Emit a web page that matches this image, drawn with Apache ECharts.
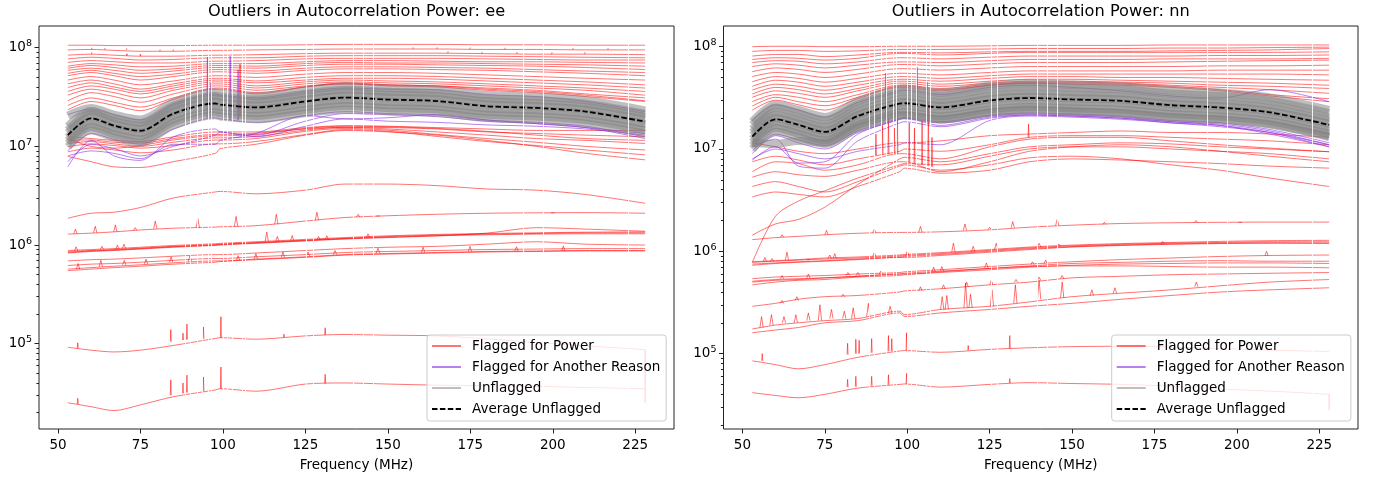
<!DOCTYPE html>
<html><head><meta charset="utf-8">
<script src="https://cdn.jsdelivr.net/npm/echarts@6/dist/echarts.min.js"></script>
<style>html,body{margin:0;padding:0;background:#fff}#c{width:1374px;height:478px}</style>
</head><body><div id="c"></div>
<script>
// ---------- sample frequencies (MHz) and ticks ----------
const freqs = [53,60,67,75,85,97.7,99.2,110,125,137,150,165,180,195,210,228];
const xTicks = [50,75,100,125,150,175,200,225];
const yTicks = [1e5,1e6,1e7,1e8];
const yMinor = [2e4,3e4,4e4,5e4,6e4,7e4,8e4,9e4,2e5,3e5,4e5,5e5,6e5,7e5,8e5,9e5,2e6,3e6,4e6,5e6,6e6,7e6,8e6,9e6,2e7,3e7,4e7,5e7,6e7,7e7,8e7,9e7];
const flaggedChannels = [88.6,90.1,92.1,93.6,95.6,96.6,100.0,101.2,102.7,105.8,106.9,125.4,127.4,139.5,142.5,145.5,191.1,197.2,222.9];
const gapBands = [[97.7,99.2],[137.2,137.8]];
const MEGA = 1e6; // all power values below are in millions

// ================= ee =================
const eeAverage = [13.0,19.2,16.2,14.4,21.5,27.2,26.5,24.8,28.5,31.2,29.8,28.8,25.5,24.5,22.5,17.8];
const eeUnflagged = [
 [9.9,14.6,12.3,10.9,16.3,20.7,20.1,18.8,21.7,23.7,22.6,21.9,19.4,18.6,17.1,13.5],
 [10.7,15.7,13.3,11.8,17.6,22.3,21.7,20.3,23.4,25.6,24.4,23.6,20.9,20.1,18.5,14.6],
 [11.4,16.9,14.3,12.7,18.9,23.9,23.3,21.8,25.1,27.5,26.2,25.3,22.4,21.6,19.8,15.7],
 [12.4,18.2,15.4,13.7,20.4,25.8,25.2,23.6,27.1,29.6,28.3,27.4,24.2,23.3,21.4,16.9],
 [13.7,20.2,17.0,15.1,22.6,28.6,27.8,26.0,29.9,32.8,31.3,30.2,26.8,25.7,23.6,18.7],
 [14.6,21.5,18.1,16.1,24.1,30.5,29.7,27.8,31.9,34.9,33.4,32.3,28.6,27.4,25.2,19.9],
 [16.0,23.0,19.4,17.3,25.8,32.6,31.8,29.8,34.2,37.4,35.8,34.6,30.6,29.4,27.0,21.4],
 [20.5,24.5,21.0,18.7,28.0,35.4,34.5,32.2,37.0,40.6,38.7,37.4,33.2,31.9,29.3,23.1]
];
const eePower = [
 [106,106,105,105,105,106,106,106,107,108,108,108,107,107,106,106],
 [95,96,94,92,92,94,94,95,96,97,97,97,96,96,95,95],
 [84,86,84,82,82,84,84,85,87,88,88,88,87,86,86,85],
 [77,80,78,75,76,79,79,79,82,83,83,83,82,81,80,79],
 [71,74,72,70,70,73,73,74,77,78,78,78,77,76,75,75],
 [65,69,67,64,65,69,69,69,72,74,74,73,72,72,71,70],
 [62,66,63,59,61,66,66,65,69,71,70,70,69,68,67,65],
 [59,62,59,55,58,63,63,62,66,68,68,67,66,65,63,60],
 [55,59,55,51,54,60,60,58,62,64,64,63,62,60,58,56],
 [52,56,52,47,51,57,57,55,59,61,61,60,59,57,55,52],
 [47,51,47,42,46,52,52,50,54,56,56,55,53,51,49,47],
 [43,47,43,38,43,49,49,46,50,52,52,51,49,47,45,42],
 [39.5,44,40,36,41,47,47,44,47,49,49,48,46,44,42,39],
 [36,41,38,34,39,45,45,41,45,47,46,45,43,41,39,36],
 [33,38,35,31,37,43,43,39,43,45,44,43,41,39,37,33],
 [29,35,32,28,34,41,41,37,41,43,42,41,39,37,34,31],
 [26,31,28,25,31,39,39,35,40,43,41,40,37,35,32,28.5],
 [23.5,28.5,26,23,30,38,38,34,40,44,42,41,38,36,33,29],
 [12.5,12.0,11.5,11.2,12.5,14.0,14.0,14.0,15.5,16.2,16.0,15.5,15.0,14.5,14.5,14.5],
 [11.6,11.6,11.0,10.8,12.0,13.2,13.2,13.6,15.0,15.6,15.5,15.0,14.0,13.5,13.0,12.5],
 [10.7,11.2,10.6,10.0,11.0,12.2,12.2,12.6,14.6,15.6,15.0,14.0,13.0,12.0,11.5,10.7],
 [9.9,10.6,10.2,9.6,10.2,11.6,11.6,12.0,14.2,15.2,14.6,13.2,12.0,11.0,10.0,9.2],
 [8.8,9.6,9.2,8.6,9.2,10.6,10.6,11.2,13.2,14.8,14.2,12.6,11.2,10.2,9.2,8.2],
 [7.9,7.0,6.2,6.1,7.0,8.5,9.5,10.5,13.0,14.5,14.0,13.0,11.5,10.0,8.5,7.3],
 [12.0,10.0,9.6,10.2,11.6,12.8,12.8,13.2,15.2,16.0,15.8,15.2,14.2,13.0,12.0,11.5],
 [1.87,2.1,2.15,2.4,3.0,3.45,3.5,3.3,3.6,4.15,4.15,4.0,3.7,3.6,3.25,2.65],
 [1.29,1.32,1.36,1.42,1.48,1.52,1.53,1.57,1.75,1.9,1.98,2.05,2.1,2.12,2.13,2.1],
 [0.86,0.88,0.9,0.93,0.97,1.01,1.02,1.06,1.12,1.17,1.22,1.26,1.29,1.31,1.33,1.33],
 [0.84,0.87,0.89,0.92,0.96,1.0,1.01,1.05,1.11,1.16,1.2,1.24,1.27,1.29,1.3,1.3],
 [0.83,0.86,0.88,0.91,0.95,0.99,1.0,1.04,1.1,1.15,1.19,1.24,1.32,1.5,1.45,1.38],
 [0.88,0.9,0.92,0.95,0.99,1.03,1.04,1.08,1.14,1.19,1.24,1.28,1.31,1.33,1.35,1.36],
 [0.69,0.71,0.72,0.74,0.77,0.8,0.8,0.83,0.88,0.92,0.95,0.97,1.02,1.08,1.02,1.0],
 [0.62,0.64,0.65,0.67,0.7,0.73,0.73,0.76,0.8,0.84,0.86,0.88,0.9,0.91,0.92,0.92],
 [0.57,0.59,0.61,0.63,0.66,0.69,0.69,0.72,0.76,0.8,0.82,0.84,0.86,0.87,0.88,0.88],
 [0.55,0.57,0.59,0.61,0.64,0.67,0.68,0.71,0.75,0.79,0.81,0.83,0.85,0.86,0.87,0.87],
 [0.092,0.086,0.0825,0.086,0.096,0.113,0.115,0.111,0.12,0.124,0.122,0.12,0.112,0.103,0.095,0.087],
 [0.0252,0.023,0.021,0.024,0.029,0.034,0.035,0.033,0.039,0.040,0.039,0.038,0.0375,0.037,0.036,0.035]
];
// spikes: [frequency, base, peak]
const eePowerSpikesNarrow = [
 [60.3,96,100],[64.3,95.5,99.5],[70.9,94.5,98.5],[81,92,96],[85,92,96],[157.7,97,101],[165,97,101],[175,96.5,100.5],[185.6,96,100],[206.2,95.5,99.5],[216.8,95,99],
 [60.3,86,90],[70.9,83,87],[75,82,86],[168.3,88,92],[178.6,87,91],[189.2,86.5,90.5],[199.8,86,90],[209.8,86,90],
 [56,0.09,0.102],[84.2,0.105,0.139],[87.9,0.109,0.128],[89.1,0.11,0.158],[94.1,0.112,0.148],[99.4,0.115,0.188],[107,0.112,0.116],[118.5,0.116,0.125],[131,0.123,0.145],[228,0.087,0.025],
 [56,0.0245,0.028],[84.2,0.030,0.043],[87.9,0.0315,0.040],[89.1,0.032,0.048],[94.1,0.033,0.046],[99.4,0.035,0.058],[131,0.0395,0.049],
 [105.2,20,68]
];
const eePowerSpikesWide = [
 [55.3,1.3,1.45],[61.3,1.33,1.55],[67.4,1.36,1.6],[73.4,1.41,1.5],[79.5,1.46,1.75],[92.4,1.5,1.85],[104,1.55,1.95],[116.2,1.62,2.05],[128.5,1.78,2.15],[141,1.93,2.05],[147,1.97,2.02],[200,2.12,2.2],
 [55.5,0.87,0.96],[63.3,0.9,0.97],[68,0.91,1.0],[70,0.92,1.02],[113.3,1.08,1.35],[116.5,1.09,1.22],[121,1.1,1.25],[129,1.13,1.22],[131.5,1.14,1.24],[144,1.19,1.3],
 [56.1,0.57,0.65],[63,0.6,0.7],[70.1,0.63,0.7],[76.7,0.64,0.72],[84.3,0.67,0.76],[90,0.68,0.78],[104.6,0.7,0.78],[110,0.72,0.82],[118.2,0.75,0.85],[125.8,0.77,0.85],[134,0.8,0.88],[147,0.83,0.93],[160.7,0.84,0.95],[174.9,0.86,0.97],[189,0.87,0.96],[203.2,0.87,0.98]
];
const eeOther = [
 [9.0,13.5,11.8,10.5,15.0,19.5,19.0,17.5,20.5,22.5,21.5,20.8,18.5,17.5,16.0,12.5],
 [6.2,11.5,8.0,7.2,12.5,15.0,14.0,13.0,18.0,21.5,21.0,20.0,18.0,17.0,15.5,12.0],
 [7.0,10.5,9.5,8.0,10.0,13.0,14.0,12.5,16.0,19.0,18.0,17.5,16.5,16.0,15.0,13.0],
 [21,24,21,18.5,27,34,33,31,36,39,38,37.5,33.5,32,28.5,22.5],
 [8.0,9.0,8.5,7.5,10.5,10.5,11.5,13.5,20.5,19.0,19.5,21.0,18.5,17.0,15.5,13.5]
];
const eeOtherSpikes = [[95.3,19.3,80],[96.4,19.4,44],[102.2,18.5,82],[104.6,18.4,60]];

// ================= nn =================
const nnAverage = [13.2,19.5,17.2,14.7,21.0,27.8,28.0,25.5,29.8,31.5,30.5,29.5,26.8,25.4,22.8,17.2];
const nnUnflagged = [
 [11.5,11.2,12.0,11.5,16.5,21.5,21.5,19.5,23,24.5,23.5,22.5,20.5,19.5,17.5,13.3],
 [10.0,14.8,13.1,11.2,16.0,21.1,21.3,19.4,22.6,23.9,23.2,22.4,20.4,19.3,17.3,13.1],
 [10.8,16.0,14.1,12.1,17.2,22.8,23.0,20.9,24.4,25.8,25.0,24.2,22.0,20.8,18.7,14.1],
 [11.6,17.2,15.1,12.9,18.5,24.5,24.6,22.4,26.2,27.7,26.8,26.0,23.6,22.4,20.1,15.1],
 [12.5,18.5,16.3,14.0,20.0,26.4,26.6,24.2,28.3,29.9,29.0,28.0,25.5,24.1,21.7,16.3],
 [13.6,20.1,17.7,15.1,21.6,28.6,28.8,26.3,30.7,32.4,31.4,30.4,27.6,26.2,23.5,17.7],
 [14.5,21.5,18.9,16.2,23.1,30.6,30.8,28.1,32.8,34.7,33.6,32.5,29.5,27.9,25.1,18.9],
 [15.6,23.0,20.3,17.3,24.8,32.8,33.0,30.1,35.2,37.2,36.0,34.8,31.6,30.0,26.9,20.3],
 [17.2,25.4,22.4,19.1,27.3,36.1,36.4,33.2,38.7,41.0,39.7,38.4,34.8,33.0,29.6,22.4],
 [18.5,27.3,24.1,20.6,29.4,38.9,39.2,35.7,41.7,44.1,42.7,41.3,37.5,35.6,31.9,24.1]
];
const nnPower = [
 [100,101,101,100,100,101,101,101,102,103,103,103,104,104,104,104],
 [90,92,92,90,91,94,94,94,95,96,96,96,97,97,98,99],
 [81,84,84,80,83,88,88,87,89,90,90,90,91,92,93,96],
 [75,78,77,74,77,86,86,83,86,88,88,88,88,88,88,89],
 [70,73,72,68,71,78,78,76,79,81,81,81,81,82,82,83],
 [64,68,66,62,66,71,71,70,73,75,75,75,76,76,76,77],
 [57,62,60,56,60,67,67,65,68,70,70,70,71,72,73,74],
 [51,56,54,50,54,61,61,59,62,64,64,64,64,65,65,66],
 [45.5,51,49,45,49,55,55,53,56,58,58,58,58,59,59,59],
 [41,47,45,41,45,51,51,49,52,54,54,54,54,54,54,53],
 [37.7,43,41,37.5,42,48,48,46,49,51,51,50,50,49,48,47],
 [34.5,40,38,34.5,39,46,46,43,46,48,48,47,46,45,44,42],
 [32,37,35,32,37,44,44,41,44,46,46,45,44,42,41,39],
 [29,34,32,29,34,42,42,39,43,45,45,44,42,40,38,35],
 [26.3,32,29,26.5,32,41,41,38,42,44,44,43,41,38,34,31],
 [24,30,27,24,31,40,40,37,42,44,43,42,40,37,33,29],
 [7.5,8.5,7.8,7.0,8.0,9.5,10.0,9.5,11.0,13.0,13.5,13.5,13.0,12.5,12.0,11.0],
 [6.0,7.5,7.2,6.2,7.0,9.0,9.0,8.0,10.5,12.5,13.0,13.0,12.0,11.0,10.2,9.4],
 [5.3,6.0,5.6,5.4,6.2,7.5,7.5,6.0,7.5,9.5,10.5,11.0,10.5,9.5,8.5,7.5],
 [4.3,4.8,4.3,3.8,4.8,6.8,7.0,6.2,7.0,8.2,8.5,8.0,7.0,6.2,5.2,4.3],
 [3.4,3.8,3.6,3.4,4.3,6.0,6.5,5.8,6.2,7.5,8.0,7.8,7.5,7.2,6.8,6.5],
 [11.5,10.5,9.5,9.0,10.0,11.5,11.5,12.0,13.5,14.0,14.5,15.0,14.5,14.5,14.0,13.0],
 [0.78,2.2,3.1,3.9,5.2,7.0,7.2,7.0,8.5,10,10.5,10.5,10,9.5,9.0,8.0],
 [1.44,1.85,2.05,2.7,4.5,8.0,8.3,7.5,9,10.5,11,11.5,11.2,10.5,10,9.4],
 [1.30,1.36,1.40,1.45,1.50,1.53,1.53,1.55,1.62,1.72,1.8,1.87,1.9,1.92,1.93,1.93],
 [0.78,0.8,0.82,0.84,0.86,0.9,0.91,0.95,1.02,1.08,1.13,1.17,1.2,1.22,1.24,1.24],
 [0.75,0.77,0.79,0.81,0.84,0.88,0.89,0.93,1.0,1.06,1.11,1.15,1.18,1.2,1.21,1.2],
 [0.73,0.76,0.78,0.8,0.83,0.87,0.87,0.91,0.98,1.04,1.1,1.14,1.17,1.19,1.2,1.2],
 [0.79,0.81,0.83,0.86,0.88,0.92,0.93,0.97,1.04,1.1,1.15,1.19,1.22,1.25,1.27,1.28],
 [0.54,0.56,0.57,0.58,0.6,0.62,0.63,0.66,0.71,0.75,0.79,0.83,0.86,0.89,0.91,0.92],
 [0.51,0.53,0.54,0.55,0.57,0.6,0.6,0.63,0.68,0.72,0.76,0.78,0.8,0.81,0.8,0.8],
 [0.47,0.5,0.52,0.53,0.56,0.58,0.59,0.62,0.66,0.7,0.73,0.75,0.76,0.77,0.77,0.76],
 [0.5,0.52,0.53,0.55,0.57,0.6,0.61,0.64,0.68,0.71,0.72,0.72,0.71,0.7,0.7,0.69],
 [0.29,0.31,0.34,0.36,0.37,0.4,0.41,0.43,0.47,0.5,0.55,0.57,0.59,0.6,0.61,0.62],
 [0.174,0.19,0.2,0.21,0.22,0.26,0.24,0.27,0.29,0.32,0.36,0.39,0.42,0.46,0.5,0.53],
 [0.16,0.17,0.18,0.2,0.21,0.25,0.23,0.25,0.27,0.29,0.31,0.34,0.37,0.4,0.42,0.44],
 [0.085,0.078,0.071,0.078,0.092,0.106,0.107,0.103,0.11,0.114,0.117,0.118,0.116,0.112,0.108,0.105],
 [0.0415,0.039,0.037,0.040,0.046,0.050,0.0505,0.047,0.050,0.052,0.051,0.050,0.048,0.045,0.043,0.040]
];
const nnPowerSpikesNarrow = [
 [90.5,8.7,14],[92.5,8.8,17],[94.3,8.9,20],[96.1,9.0,16],[97.0,9.0,28],
 [100.6,7.4,18],[102.2,7.2,16],[104.5,7.0,19],[106.4,6.8,28],[107.5,6.7,13],[136.8,13,17.5],
 [56,0.085,0.10],[81.9,0.098,0.126],[84.4,0.10,0.138],[85.4,0.10,0.135],[89.2,0.102,0.14],[94.3,0.105,0.15],[95.3,0.105,0.14],[99.8,0.107,0.16],[118.5,0.108,0.12],[131.1,0.112,0.15],
 [81.9,0.047,0.056],[84.4,0.0475,0.060],[89.2,0.0485,0.060],[94.3,0.0495,0.062],[99.8,0.0505,0.064],[131.1,0.0515,0.057],[228,0.040,0.028]
];
const nnPowerSpikesWide = [
 [62,1.37,1.45],[75.5,1.45,1.6],[90,1.52,1.65],[104,1.54,1.75],[117.5,1.6,1.85],[125,1.63,1.72],[132,1.7,1.95],[145.5,1.78,2.05],[159.8,1.83,1.92],[187.6,1.91,2.0],[201,1.92,1.98],
 [56.8,0.79,0.87],[59,0.8,0.85],[63.5,0.82,0.98],[70,0.83,0.86],[76.5,0.85,0.92],[78,0.85,0.95],[90,0.89,0.97],[100,0.91,1.0],[114,0.98,1.2],[120,1.0,1.12],[127,1.04,1.2],[140,1.1,1.2],[146,1.12,1.18],[177.5,1.18,1.25],
 [62,0.54,0.58],[70,0.55,0.6],[82,0.58,0.62],[85,0.58,0.62],[92,0.6,0.64],[108,0.63,0.7],[110.5,0.64,0.71],[124,0.69,0.77],[138,0.74,0.79],[142,0.76,0.82],[209,0.9,1.0],
 [62,0.31,0.33],[66.5,0.33,0.36],[80.5,0.36,0.38],[104,0.41,0.45],[111,0.43,0.47],[118,0.45,0.5],[125.5,0.47,0.52],[133,0.5,0.53],[140,0.52,0.56],[147,0.54,0.58],
 [55.8,0.18,0.23],[58.8,0.19,0.24],[62.6,0.2,0.23],[66.2,0.2,0.24],[70,0.21,0.25],[73.5,0.21,0.3],[77,0.22,0.27],[80.9,0.22,0.26],[83.6,0.22,0.28],[88.2,0.23,0.31],[94.8,0.25,0.29],[110.6,0.27,0.36],[112,0.27,0.37],[117.7,0.28,0.49],[119.2,0.28,0.38],[125.7,0.29,0.42],[132.8,0.31,0.47],[140,0.34,0.52],[147,0.35,0.5],[156,0.37,0.42],[163,0.39,0.44],[187.7,0.45,0.5]
];
const nnOther = [
 [9.5,14.0,12.3,10.8,15.0,20.0,20.5,18.5,21.5,22.5,22.0,21.0,19.0,18.0,15.5,11.5],
 [7.8,10.6,7.3,7.5,14.0,19.5,20.0,18.0,21.0,22.0,21.5,20.5,18.5,17.5,15.0,11.0],
 [10.5,12.5,6.8,6.5,12.0,18.0,18.5,16.5,20.0,21.5,21.0,20.0,18.0,17.0,14.5,10.5],
 [19,27,24,20.5,28.5,37,37.5,34,40,42,40,37,33,31.5,38,29],
 [9.0,13.5,11.5,10.0,14.5,19.5,20.0,17.0,20.5,21.5,21.0,20.0,18.5,17.0,14.0,10.5],
 [8,10,9,8,9.5,11,11.5,11,19,21,20.5,19.5,18,16.5,14.5,11]
];
const nnOtherSpikes = [[93.5,19.5,55],[103,19.8,63],[106,19,45]];

const legendNames = ['Flagged for Power','Flagged for Another Reason','Unflagged','Average Unflagged'];

// ---------- styling / layout ----------
const FONT = 'DejaVu Sans';
const RED = 'rgba(255,0,0,0.55)';
const PURPLE = 'rgba(138,43,226,0.6)';
const GRAY = 'rgba(128,128,128,0.5)';
const panels = [
 {title:'Outliers in Autocorrelation Power: ee', left:39, width:635, yExp:[4.1355,8.2199], legendLeft:427,
  avg:eeAverage, gray:eeUnflagged, red:eePower, redN:eePowerSpikesNarrow, redW:eePowerSpikesWide, purple:eeOther, purpleS:eeOtherSpikes},
 {title:'Outliers in Autocorrelation Power: nn', left:723.5, width:634.5, yExp:[4.263,8.2023], legendLeft:1111.7,
  avg:nnAverage, gray:nnUnflagged, red:nnPower, redN:nnPowerSpikesNarrow, redW:nnPowerSpikesWide, purple:nnOther, purpleS:nnOtherSpikes}
];
const TOP = 26, HEIGHT = 403;

function lineS(gi, name, vals, color, width, z, type){
  return {type:'line', name, xAxisIndex:gi, yAxisIndex:2*gi, silent:true, z,
    data: freqs.map((f,i)=>[f, vals[i]*MEGA]), smooth:0.3, symbol:'none', showSymbol:false,
    lineStyle:{color, width, type:type||'solid'}, itemStyle:{color}, emphasis:{disabled:true}};
}
function spikeS(gi, name, spikes, color, hw, z){
  const data=[];
  spikes.forEach(([f,b,p])=>{ data.push([f-hw,b*MEGA],[f,p*MEGA],[f+hw,b*MEGA],[f+hw,null]); });
  return {type:'line', name, xAxisIndex:gi, yAxisIndex:2*gi, silent:true, z, data, smooth:false,
    connectNulls:false, symbol:'none', showSymbol:false, lineStyle:{color, width:1}, itemStyle:{color}, emphasis:{disabled:true}};
}

const grid=[], xAxis=[], yAxis=[], series=[], title=[], legend=[];
const txt = {fontFamily:FONT, color:'#000'};
panels.forEach((p,gi)=>{
  const yMin=Math.pow(10,p.yExp[0]), yMax=Math.pow(10,p.yExp[1]);
  grid.push({left:p.left, top:TOP, width:p.width, height:HEIGHT, show:true, borderColor:'#222', borderWidth:1, backgroundColor:'transparent', z:20});
  title.push({text:p.title, left:p.left+p.width/2, top:4, textAlign:'center', padding:0,
    textStyle:{fontFamily:FONT, fontSize:16.2, fontWeight:'normal', color:'#000'}});
  xAxis.push({type:'value', gridIndex:gi, min:44.25, max:236.75, position:'bottom', z:10,
    axisLine:{show:false}, splitLine:{show:false},
    axisTick:{show:true, length:4.5, customValues:xTicks, lineStyle:{color:'#222', width:1}},
    axisLabel:{customValues:xTicks, margin:9, fontSize:13.5, ...txt},
    name:'Frequency (MHz)', nameLocation:'middle', nameGap:29, nameTextStyle:{fontSize:13.5, ...txt}});
  yAxis.push({type:'log', gridIndex:gi, min:yMin, max:yMax, position:'left', z:10,
    axisLine:{show:false}, splitLine:{show:false}, minorTick:{show:false},
    axisTick:{show:true, length:4.5, customValues:yTicks, lineStyle:{color:'#222', width:1}},
    axisLabel:{customValues:yTicks, margin:7,
      formatter:v=>'{b|10}{s|'+Math.round(Math.log10(v))+'}',
      rich:{b:{fontSize:13.5, lineHeight:14, verticalAlign:'bottom', ...txt},
            s:{fontSize:9.5, lineHeight:10, padding:[0,0,8,0], ...txt}}}});
  yAxis.push({type:'log', gridIndex:gi, min:yMin, max:yMax, position:'right', offset:-p.width, z:10,
    axisLine:{show:false}, splitLine:{show:false}, axisLabel:{show:false},
    axisTick:{show:true, inside:true, length:2.6, customValues:yMinor, lineStyle:{color:'#222', width:1}}});
  legend.push({data:legendNames, orient:'vertical', left:p.legendLeft, top:335, padding:[4,6,5,4], itemGap:7,
    itemWidth:29, itemHeight:14, z:30, backgroundColor:'rgba(255,255,255,0.8)', borderColor:'#cccccc',
    borderWidth:1, borderRadius:3, selectedMode:false, itemStyle:{opacity:0},
    textStyle:{fontSize:13.5, padding:[0,0,0,6], ...txt}});
  p.red.forEach(v=>series.push(lineS(gi,legendNames[0],v,RED,1,2)));
  series.push(spikeS(gi,legendNames[0],p.redN,RED,0.15,2));
  series.push(spikeS(gi,legendNames[0],p.redW,RED,0.5,2));
  p.purple.forEach(v=>series.push(lineS(gi,legendNames[1],v,PURPLE,1,2)));
  series.push(spikeS(gi,legendNames[1],p.purpleS,PURPLE,0.15,2));
  p.gray.forEach(v=>series.push(lineS(gi,legendNames[2],v,GRAY,8,2)));
  series.push(lineS(gi,legendNames[3],p.avg,'#000',1.8,3,[5.5,2.4]));
  series.push({type:'line', xAxisIndex:gi, yAxisIndex:2*gi, data:[], z:4, silent:true,
    markLine:{silent:true, symbol:['none','none'], label:{show:false}, animation:false,
      lineStyle:{color:'#fff', width:1, type:'solid', opacity:0.85},
      emphasis:{disabled:true}, data:flaggedChannels.map(f=>({xAxis:f}))},
    markArea:{silent:true, itemStyle:{color:'#fff'}, animation:false,
      data:gapBands.map(([a,b])=>[{xAxis:a},{xAxis:b}])}});
});

const chart = echarts.init(document.getElementById('c'), null, {renderer:'canvas'});
chart.setOption({animation:false, backgroundColor:'#fff', title, grid, xAxis, yAxis, legend, series, tooltip:{show:false}});
</script></body></html>
